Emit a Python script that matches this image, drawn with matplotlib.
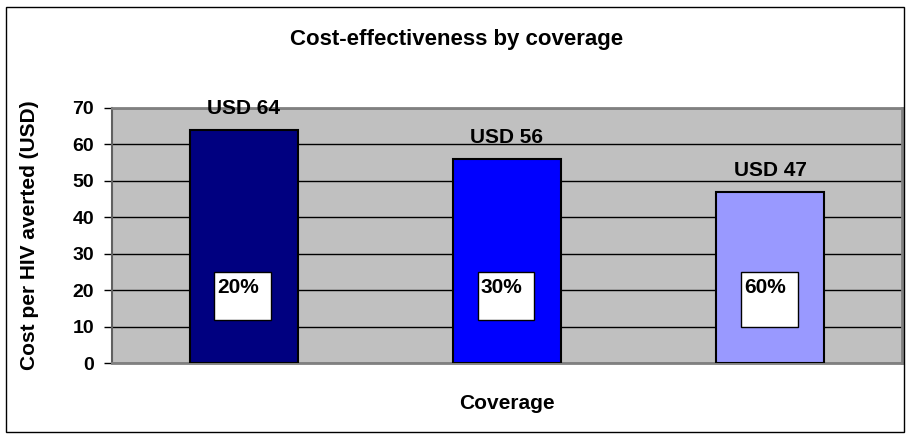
import numpy as np
import matplotlib
matplotlib.use('Agg')
import matplotlib.pyplot as plt
from matplotlib.patches import Rectangle

plt.rcParams['font.family'] = ['Liberation Sans', 'DejaVu Sans']

coverage = ['20%', '30%', '60%']
cost = [64, 56, 47]
bar_colors = ['#000080', '#0000FF', '#9999FF']
# white label box spans (bottom, top) inside each bar
box_bottom = [11.8, 11.8, 10.0]
box_top = [25.0, 25.0, 25.0]
y_ticks = [0, 10, 20, 30, 40, 50, 60, 70]

fig = plt.figure(figsize=(9.1, 4.38), dpi=100)
fig.patch.set_facecolor('white')
# outer chart frame
fig.add_artist(Rectangle((6 / 910, 6 / 438), 898 / 910, 425 / 438, transform=fig.transFigure,
                         fill=False, edgecolor='black', linewidth=1))

ax = fig.add_axes([112 / 910, 1 - 363 / 438, 790 / 910, 255 / 438])
ax.set_facecolor('#C0C0C0')

x = np.arange(len(cost)) + 0.5
bars = ax.bar(x, cost, width=0.41, color=bar_colors, edgecolor='black', linewidth=1.5, zorder=3)

for xi, c, lab, b0, b1 in zip(x, cost, coverage, box_bottom, box_top):
    ax.add_patch(Rectangle((xi - 0.112, b0), 0.216, b1 - b0, facecolor='white',
                           edgecolor='black', linewidth=1, zorder=4))
    ax.text(xi - 0.1, b1 - 1.8, lab, ha='left', va='top', fontsize=15,
            fontweight='bold', zorder=5)
    ax.text(xi, c + 4.4, 'USD %d' % c, ha='center', va='baseline', fontsize=15,
            fontweight='bold', zorder=5)

ax.set_xlim(0, 3)
ax.set_ylim(0, 70)
ax.set_yticks(y_ticks)
ax.set_yticklabels([str(t) for t in y_ticks], fontsize=14, fontweight='bold')
ax.set_xticks([])
ax.yaxis.grid(True, color='black', linewidth=1, zorder=1)
ax.set_axisbelow(True)
ax.tick_params(axis='y', direction='out', length=6, width=1, pad=7)

for side in ['top', 'right']:
    ax.spines[side].set_color('#808080')
    ax.spines[side].set_linewidth(2)
ax.spines['left'].set_color('#606060')
ax.spines['left'].set_linewidth(1.5)
ax.spines['bottom'].set_color('#808080')
ax.spines['bottom'].set_linewidth(2)

ax.set_ylabel('Cost per HIV averted (USD)', fontsize=15, fontweight='bold', va='center')
ax.yaxis.set_label_coords(-0.104, 0.5)
ax.set_xlabel('Coverage', fontsize=15, fontweight='bold', va='center')
ax.xaxis.set_label_coords(0.5, -0.157)
fig.text(457 / 910, 1 - 40 / 438, 'Cost-effectiveness by coverage', ha='center', va='center',
         fontsize=16, fontweight='bold')

fig.savefig('out.png', dpi=100)
